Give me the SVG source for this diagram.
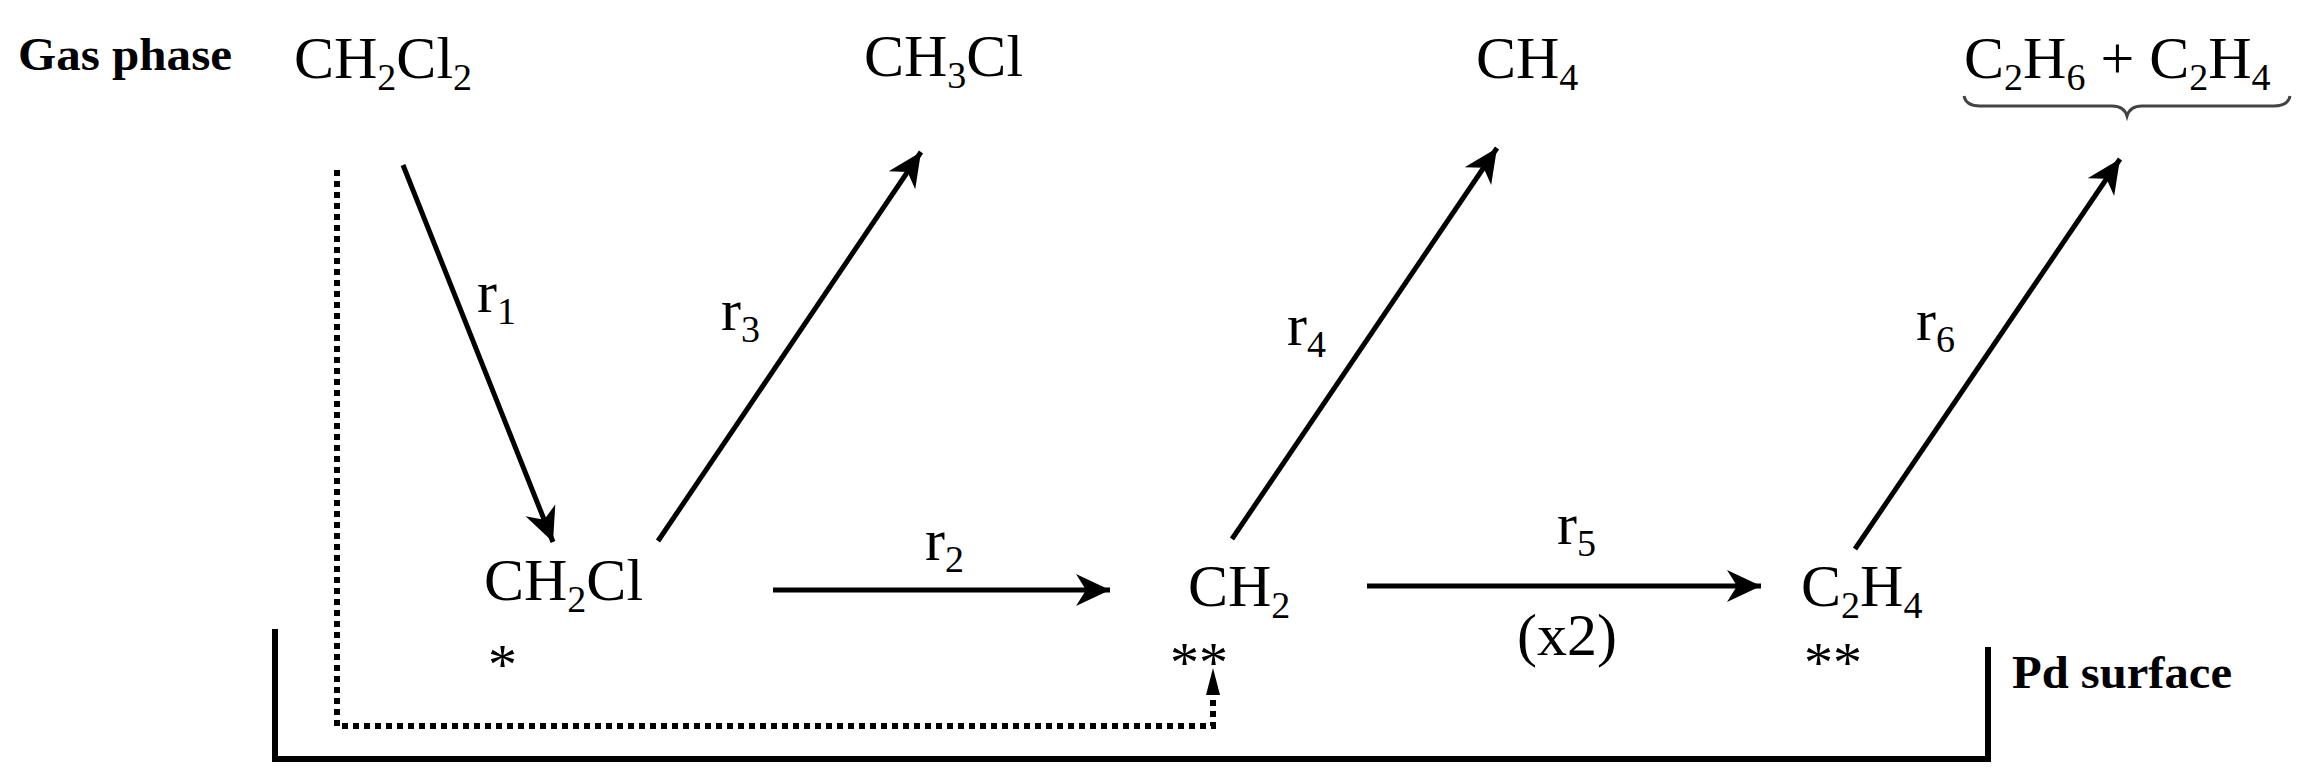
<svg xmlns="http://www.w3.org/2000/svg" width="2318" height="784" viewBox="0 0 2318 784">
<style>
.t{font-family:"Liberation Serif",serif;font-size:60px;fill:#000}
.s{font-size:38px}
.st{font-size:58px}
.b{font-family:"Liberation Serif",serif;font-weight:bold;font-size:46px;fill:#000}
.a{stroke:#000;stroke-width:5;fill:none;marker-end:url(#ah)}
</style>
<defs>
<marker id="ah" markerUnits="userSpaceOnUse" markerWidth="50" markerHeight="40" viewBox="-40 -20 50 40" refX="0" refY="0" orient="auto">
<path d="M0,0 L-34,-16 L-24,0 L-34,16 Z" fill="#000"/>
</marker>
</defs>
<g id="gas-label"><text class="b" x="18" y="70" textLength="214" lengthAdjust="spacingAndGlyphs">Gas phase</text></g>
<g id="ch2cl2"><text class="t" x="294" y="78">CH<tspan class="s" dy="12">2</tspan><tspan dy="-12">Cl</tspan><tspan class="s" dy="12">2</tspan></text></g>
<g id="ch3cl"><text class="t" x="864" y="76">CH<tspan class="s" dy="12">3</tspan><tspan dy="-12">Cl</tspan></text></g>
<g id="ch4"><text class="t" x="1476" y="78">CH<tspan class="s" dy="12">4</tspan></text></g>
<g id="c2h6c2h4"><text class="t" x="1964" y="78">C<tspan class="s" dy="12">2</tspan><tspan dy="-12">H</tspan><tspan class="s" dy="12">6</tspan><tspan dy="-12"> + C</tspan><tspan class="s" dy="12">2</tspan><tspan dy="-12">H</tspan><tspan class="s" dy="12">4</tspan></text>
<path d="M1964,96 Q1966,106 1980,106 L2112,106 Q2124,106 2127,116 Q2130,106 2142,106 L2274,106 Q2288,106 2290,96" fill="none" stroke="#444" stroke-width="3"/></g>
<g id="ch2cl"><text class="t" x="484" y="600">CH<tspan class="s" dy="12">2</tspan><tspan dy="-12">Cl</tspan></text><text class="t st" x="488" y="684">*</text></g>
<g id="ch2"><text class="t" x="1188" y="606">CH<tspan class="s" dy="12">2</tspan></text><text class="t st" x="1170" y="682">**</text></g>
<g id="c2h4"><text class="t" x="1801" y="606">C<tspan class="s" dy="12">2</tspan><tspan dy="-12">H</tspan><tspan class="s" dy="12">4</tspan></text><text class="t st" x="1804" y="682">**</text></g>
<g id="surface"><path d="M275,629 L275,759 L1988,759 L1988,647" fill="none" stroke="#000" stroke-width="6"/><text class="b" x="2012" y="688" textLength="220" lengthAdjust="spacingAndGlyphs">Pd surface</text></g>
<g id="connectors">
<path class="a" d="M403,165 L553,542"/>
<path class="a" d="M658,541 L921,152"/>
<path class="a" d="M773,590 L1110,590"/>
<path class="a" d="M1232,539 L1497,148"/>
<path class="a" d="M1367,586 L1761,586"/>
<path class="a" d="M1855,549 L2120,159"/>
<path d="M337,170 L337,726 L1213,726 L1213,695" fill="none" stroke="#000" stroke-width="6" stroke-dasharray="6,5"/>
<path d="M1213,668 L1206,695 L1220,695 Z" fill="#000"/>
<text class="t" x="477" y="312">r<tspan class="s" dy="12">1</tspan></text>
<text class="t" x="721" y="330">r<tspan class="s" dy="12">3</tspan></text>
<text class="t" x="925" y="560">r<tspan class="s" dy="12">2</tspan></text>
<text class="t" x="1287" y="345">r<tspan class="s" dy="12">4</tspan></text>
<text class="t" x="1557" y="544">r<tspan class="s" dy="12">5</tspan></text>
<text class="t" x="1517" y="655">(x2)</text>
<text class="t" x="1916" y="340">r<tspan class="s" dy="12">6</tspan></text>
</g>
</svg>
